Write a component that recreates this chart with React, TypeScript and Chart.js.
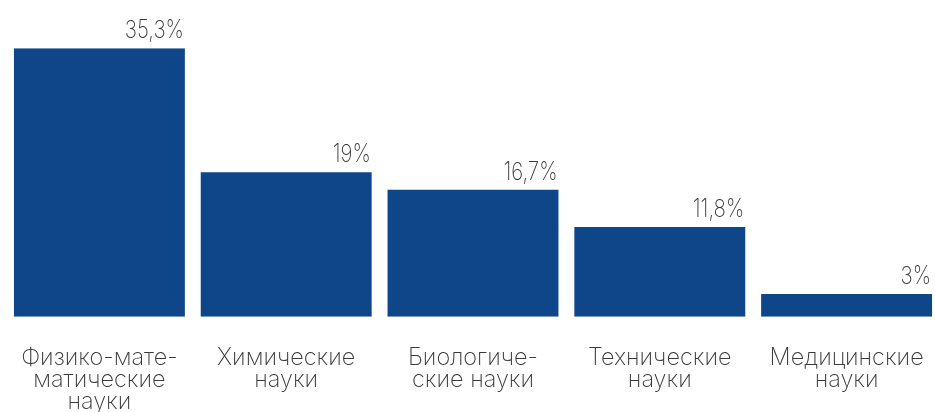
import React, { useEffect, useRef } from "react";
import { Chart, registerables } from "chart.js";

Chart.register(...registerables);

const categories: string[][] = [
  ["Физико-мате-", "матические", "науки"],
  ["Химические", "науки"],
  ["Биологиче-", "ские науки"],
  ["Технические", "науки"],
  ["Медицинские", "науки"],
];
const values: number[] = [35.3, 19, 16.7, 11.8, 3];
const valueLabels: string[] = ["35,3%", "19%", "16,7%", "11,8%", "3%"];

const BAR_COLOR = "#0e4689";
const TEXT_COLOR = "#3a3a3a";
const VALUE_FONT = "200 25px Inter";
const VALUE_SX = 0.82;
const CAT_FONT = "200 23.5px Inter";
const CAT_SX = 1.0;
const CAT_LINE = 21.7;
const CAT_FIRST_BASELINE_OFFSET = 48.3; // from bar baseline

const labelPlugin = {
  id: "customLabels",
  afterDatasetsDraw(chart: any) {
    const ctx = chart.ctx;
    const meta = chart.getDatasetMeta(0);
    const xScale = chart.scales.x;
    const base = chart.chartArea.bottom;
    ctx.save();
    ctx.fillStyle = TEXT_COLOR;
    ctx.textBaseline = "alphabetic";
    // value labels
    ctx.font = VALUE_FONT;
    ctx.textAlign = "right";
    meta.data.forEach((bar: any, i: number) => {
      const right = bar.x + bar.width / 2 - 1;
      ctx.save();
      ctx.translate(right, bar.y - 10);
      ctx.scale(VALUE_SX, 1);
      ctx.fillText(valueLabels[i], 0, 0);
      ctx.restore();
    });
    // category labels
    ctx.font = CAT_FONT;
    ctx.textAlign = "center";
    categories.forEach((lines, i) => {
      const cx = xScale.getPixelForValue(i);
      lines.forEach((line, j) => {
        ctx.save();
        ctx.translate(cx, base + CAT_FIRST_BASELINE_OFFSET + j * CAT_LINE);
        ctx.scale(CAT_SX, 1);
        ctx.fillText(line, 0, 0);
        ctx.restore();
      });
    });
    ctx.restore();
  },
};

export default function App() {
  const ref = useRef<HTMLCanvasElement | null>(null);
  useEffect(() => {
    if (!ref.current) return;
    const chart = new Chart(ref.current, {
      type: "bar",
      data: {
        labels: categories.map((c) => c.join(" ")),
        datasets: [
          {
            data: values,
            backgroundColor: BAR_COLOR,
            borderWidth: 0,
            categoryPercentage: 1,
            barPercentage: 0.915,
          },
        ],
      },
      options: {
        responsive: false,
        animation: false,
        devicePixelRatio: 1,
        layout: { padding: { left: 6, right: 0, top: 48.3, bottom: 95.2 } },
        plugins: {
          legend: { display: false },
          tooltip: { enabled: false },
        },
        scales: {
          x: { display: false },
          y: { display: false, min: 0, max: 35.3 },
        },
      },
      plugins: [labelPlugin],
    });
    return () => chart.destroy();
  }, []);
  return (
    <div style={{ position: "fixed", left: 0, top: 0, width: 935, height: 412, overflow: "hidden", background: "#fff" }}>
      <canvas ref={ref} width={940} height={412} style={{ width: 940, height: 412, display: "block" }} />
    </div>
  );
}
